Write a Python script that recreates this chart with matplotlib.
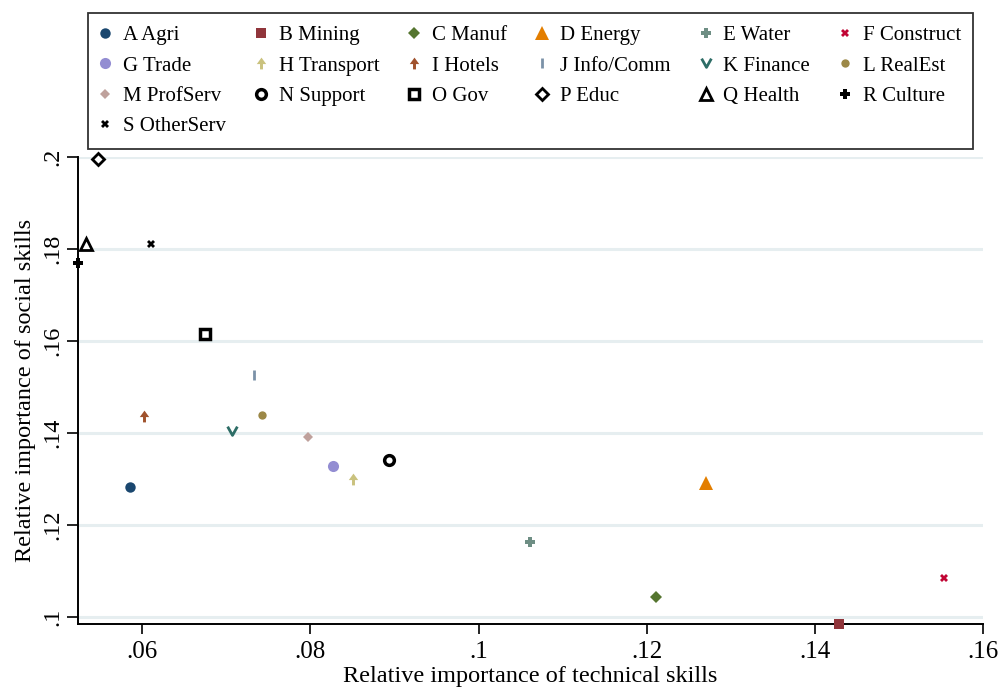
import numpy as np
import matplotlib
matplotlib.use("Agg")
import matplotlib.pyplot as plt
from matplotlib.path import Path

plt.rcParams["font.family"] = ["Liberation Serif", "DejaVu Serif"]

# industries, in legend order
labels = ["A Agri", "B Mining", "C Manuf", "D Energy", "E Water", "F Construct",
          "G Trade", "H Transport", "I Hotels", "J Info/Comm", "K Finance", "L RealEst",
          "M ProfServ", "N Support", "O Gov", "P Educ", "Q Health", "R Culture",
          "S OtherServ"]
tech = [0.0585, 0.1429, 0.1211, 0.1270, 0.1061, 0.1554,
        0.0827, 0.0851, 0.0602, 0.0733, 0.0707, 0.0742,
        0.0797, 0.0893, 0.0674, 0.0547, 0.0533, 0.0523,
        0.0610]
social = [0.1282, 0.0985, 0.1043, 0.1292, 0.1164, 0.1085,
          0.1328, 0.1299, 0.1437, 0.1526, 0.1405, 0.1438,
          0.1391, 0.1342, 0.1615, 0.1996, 0.1811, 0.1769,
          0.1811]

xticks = [0.06, 0.08, 0.10, 0.12, 0.14, 0.16]
xticklabels = [".06", ".08", ".1", ".12", ".14", ".16"]
yticks = [0.10, 0.12, 0.14, 0.16, 0.18, 0.20]
yticklabels = [".1", ".12", ".14", ".16", ".18", ".2"]

# custom marker shapes
arrow = Path([(0, 1), (-0.8, -0.1), (-0.25, -0.1), (-0.25, -1), (0.25, -1),
              (0.25, -0.1), (0.8, -0.1), (0, 1)])
vee = Path([(-1, 1), (0, -0.8), (1, 1)], [Path.MOVETO, Path.LINETO, Path.LINETO])

# (marker, color, size, filled, edge width)
styles = [
    ("o", "#1a476f", 7.5, True, 0),
    ("s", "#90353b", 7.5, True, 0),
    ("D", "#55752f", 6.6, True, 0),
    ("^", "#e37e00", 9.5, True, 0),
    ("P", "#6e8e84", 6.5, True, 0),
    ("X", "#c10534", 5.5, True, 0),
    ("o", "#938dd2", 8, True, 0),
    (arrow, "#cac27e", 8.5, True, 0),
    (arrow, "#a0522d", 8.5, True, 0),
    ("|", "#7b92a8", 7, False, 2),
    (vee, "#2d6d66", 7, False, 2),
    ("o", "#9c8847", 6, True, 0),
    ("D", "#bfa19c", 5, True, 0),
    ("o", "black", 7, False, 2.5),
    ("s", "black", 7.5, False, 2.5),
    ("D", "black", 6.5, False, 2),
    ("^", "black", 9, False, 2),
    ("P", "black", 7, True, 0),
    ("X", "black", 6, True, 0),
]

fig = plt.figure(figsize=(10.02, 6.91), dpi=100)
ax = fig.add_axes([0.0775, 0.097, 0.9035, 0.676])

handles = []
for lab, x, y, (m, c, ms, filled, mew) in zip(labels, tech, social, styles):
    if filled:
        face = c
    elif m == "|" or isinstance(m, Path):
        face = "none"
    else:
        face = "white"
    h, = ax.plot([x], [y], linestyle="none", marker=m, markersize=ms,
                 markerfacecolor=face, markeredgecolor=c, markeredgewidth=mew,
                 label=lab, clip_on=False, zorder=3)
    handles.append(h)

ax.set_xlim(0.0523, 0.16)
ax.set_ylim(0.0985, 0.20)
ax.set_xticks(xticks)
ax.set_xticklabels(xticklabels, fontsize=18)
ax.set_yticks(yticks)
ax.set_yticklabels(yticklabels, fontsize=17.5, rotation=90, va="center")
ax.tick_params(axis="x", direction="out", length=7, width=1.2, pad=5)
ax.tick_params(axis="y", direction="out", length=8, width=1.2, pad=2)

for y in yticks:
    ax.axhline(y, color="#e6eef0", linewidth=2.2, zorder=0)

for side in ("top", "right"):
    ax.spines[side].set_visible(False)
for side in ("left", "bottom"):
    ax.spines[side].set_linewidth(1.4)

ax.set_xlabel("Relative importance of technical skills", fontsize=17.5)
ax.set_ylabel("Relative importance of social skills", fontsize=17.5)
ax.xaxis.set_label_coords(0.5, -0.09)
ax.yaxis.set_label_coords(-0.0465, 0.5)

# matplotlib fills legend columns first; reorder so it reads row by row
order = [0, 6, 12, 18, 1, 7, 13, 2, 8, 14, 3, 9, 15, 4, 10, 16, 5, 11, 17]
leg = fig.legend([handles[i] for i in order], [labels[i] for i in order],
                 loc="upper left", bbox_to_anchor=(0.0875, 0.981, 0.884, 0.0),
                 mode="expand", ncol=6, fontsize=15, frameon=True, fancybox=False,
                 edgecolor="black", handlelength=0.5, handletextpad=0.6,
                 labelspacing=0.52, borderpad=0.6, borderaxespad=0,
                 markerscale=1.0)
leg.get_frame().set_linewidth(1.3)

fig.savefig("out.png", dpi=100)
